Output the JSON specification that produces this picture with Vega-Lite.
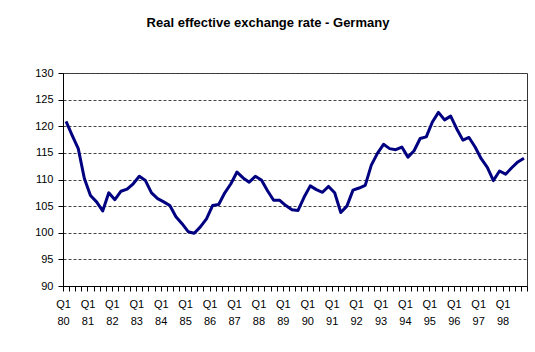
{
  "$schema": "https://vega.github.io/schema/vega-lite/v6.json",
  "width": 464,
  "height": 213,
  "autosize": "none",
  "padding": {"left": 63, "top": 73, "right": 8, "bottom": 66},
  "background": "white",
  "title": {
    "text": "Real effective exchange rate - Germany",
    "font": "Liberation Sans",
    "fontSize": 13,
    "fontWeight": "bold",
    "color": "#000000",
    "anchor": "middle",
    "frame": "group",
    "dx": -27,
    "baseline": "alphabetic",
    "offset": 27
  },
  "data": {
    "values": [
      {"q": "1980Q1", "v": 120.9}, {"q": "1980Q2", "v": 118.3}, {"q": "1980Q3", "v": 115.8}, {"q": "1980Q4", "v": 110.2},
      {"q": "1981Q1", "v": 107.0}, {"q": "1981Q2", "v": 105.8}, {"q": "1981Q3", "v": 104.1}, {"q": "1981Q4", "v": 107.5},
      {"q": "1982Q1", "v": 106.2}, {"q": "1982Q2", "v": 107.8}, {"q": "1982Q3", "v": 108.2}, {"q": "1982Q4", "v": 109.2},
      {"q": "1983Q1", "v": 110.6}, {"q": "1983Q2", "v": 109.8}, {"q": "1983Q3", "v": 107.5}, {"q": "1983Q4", "v": 106.4},
      {"q": "1984Q1", "v": 105.8}, {"q": "1984Q2", "v": 105.1}, {"q": "1984Q3", "v": 103.0}, {"q": "1984Q4", "v": 101.7},
      {"q": "1985Q1", "v": 100.2}, {"q": "1985Q2", "v": 99.9}, {"q": "1985Q3", "v": 101.1}, {"q": "1985Q4", "v": 102.6},
      {"q": "1986Q1", "v": 105.1}, {"q": "1986Q2", "v": 105.3}, {"q": "1986Q3", "v": 107.5}, {"q": "1986Q4", "v": 109.2},
      {"q": "1987Q1", "v": 111.4}, {"q": "1987Q2", "v": 110.3}, {"q": "1987Q3", "v": 109.5}, {"q": "1987Q4", "v": 110.6},
      {"q": "1988Q1", "v": 109.9}, {"q": "1988Q2", "v": 107.9}, {"q": "1988Q3", "v": 106.1}, {"q": "1988Q4", "v": 106.1},
      {"q": "1989Q1", "v": 105.1}, {"q": "1989Q2", "v": 104.3}, {"q": "1989Q3", "v": 104.2}, {"q": "1989Q4", "v": 106.7},
      {"q": "1990Q1", "v": 108.8}, {"q": "1990Q2", "v": 108.1}, {"q": "1990Q3", "v": 107.6}, {"q": "1990Q4", "v": 108.7},
      {"q": "1991Q1", "v": 107.5}, {"q": "1991Q2", "v": 103.8}, {"q": "1991Q3", "v": 105.0}, {"q": "1991Q4", "v": 108.0},
      {"q": "1992Q1", "v": 108.4}, {"q": "1992Q2", "v": 108.9}, {"q": "1992Q3", "v": 112.7}, {"q": "1992Q4", "v": 114.9},
      {"q": "1993Q1", "v": 116.6}, {"q": "1993Q2", "v": 115.8}, {"q": "1993Q3", "v": 115.6}, {"q": "1993Q4", "v": 116.1},
      {"q": "1994Q1", "v": 114.2}, {"q": "1994Q2", "v": 115.4}, {"q": "1994Q3", "v": 117.7}, {"q": "1994Q4", "v": 118.0},
      {"q": "1995Q1", "v": 120.8}, {"q": "1995Q2", "v": 122.6}, {"q": "1995Q3", "v": 121.2}, {"q": "1995Q4", "v": 121.9},
      {"q": "1996Q1", "v": 119.5}, {"q": "1996Q2", "v": 117.4}, {"q": "1996Q3", "v": 117.9}, {"q": "1996Q4", "v": 116.1},
      {"q": "1997Q1", "v": 113.9}, {"q": "1997Q2", "v": 112.3}, {"q": "1997Q3", "v": 109.8}, {"q": "1997Q4", "v": 111.6},
      {"q": "1998Q1", "v": 111.0}, {"q": "1998Q2", "v": 112.2}, {"q": "1998Q3", "v": 113.3}, {"q": "1998Q4", "v": 114.0}
    ]
  },
  "mark": {"type": "line", "color": "#000080", "strokeWidth": 3, "strokeJoin": "round"},
  "encoding": {
    "x": {
      "field": "q",
      "type": "ordinal",
      "sort": null,
      "scale": {"type": "band", "paddingInner": 0, "paddingOuter": 0},
      "axis": {
        "title": null,
        "grid": false,
        "domainColor": "#000000",
        "ticks": true,
        "tickColor": "#000000",
        "tickOpacity": 1,
        "tickBand": "extent",
        "tickSize": 5,
        "tickWidth": 1,
        "labelAngle": 0,
        "labelOverlap": false,
        "labelAlign": "center",
        "labelBaseline": "top",
        "labelPadding": 7,
        "labelOffset": -3,
        "labelLineHeight": 17,
        "labelFont": "Liberation Sans",
        "labelFontSize": 11,
        "labelColor": "#000000",
        "labelExpr": "indexof('' + datum.value, 'Q1') == 4 ? ['Q1', substring('' + datum.value, 2, 4)] : ''"
      }
    },
    "y": {
      "field": "v",
      "type": "quantitative",
      "scale": {"domain": [90, 130], "zero": false, "nice": false},
      "axis": {
        "title": null,
        "values": [90, 95, 100, 105, 110, 115, 120, 125, 130],
        "grid": true,
        "gridColor": "#444444",
        "gridDash": [3, 2],
        "gridWidth": 1,
        "domainColor": "#000000",
        "tickColor": "#000000",
        "tickSize": 5,
        "labelPadding": 5,
        "labelFont": "Liberation Sans",
        "labelFontSize": 11,
        "labelColor": "#000000"
      }
    }
  },
  "config": {
    "view": {"stroke": "#333333", "strokeWidth": 1},
    "axisBand": {"ticks": true, "tickBand": "extent"},
    "axisX": {"ticks": true}
  }
}
